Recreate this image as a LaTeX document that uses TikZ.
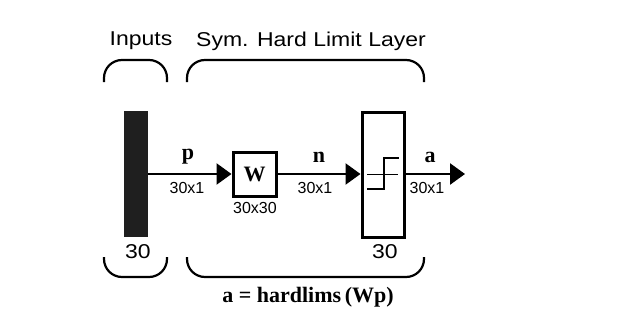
\documentclass[tikz,border=0pt]{standalone}
\usepackage{fontspec}
\setmainfont{Liberation Sans}
\newfontfamily\labfont[FakeStretch=1.15]{Liberation Sans}
\newfontfamily\varfont{Liberation Serif}
\usetikzlibrary{arrows.meta}
\tikzset{
	lab/.style={font=\labfont\fontsize{20}{22}\selectfont},
	dim/.style={font=\fontsize{16}{18}\selectfont},
	var/.style={font=\varfont\bfseries\fontsize{22}{24}\selectfont},
	sig/.style={line width=2.6pt,-{Triangle[length=15pt,width=21pt]}},
	brace/.style={line width=2.2pt,rounded corners=18pt},
	blk/.style={draw,line width=3pt,inner sep=0pt,minimum width=#1}
}
\begin{document}
\begin{tikzpicture}[x=1pt,y=-1pt]
\useasboundingbox[fill=white] (0,0) rectangle (633,335);
\def\yS{174};
\def\yT{60};
\def\yB{277};
% input bar
\node[fill=black!88,minimum width=24pt,minimum height=126pt,inner sep=0pt] (bar) at (136,174) {};
% weight box
\node[blk=43pt,minimum height=44pt,var] (W) at (254.5,174) {W};
% transfer function box
\node[blk=42pt,minimum height=125pt] (tf) at (383,174.5) {};
\coordinate (out) at (465,\yS);
% step symbol
\draw[line width=1pt] (367,\yS)--(398,\yS);
\draw[line width=2.2pt] (367,189)--(384,189)--(384,158)--(399,158);
% signals
\draw[sig] (bar.east|-0,\yS) -- (W.west);
\draw[sig] (W.east) -- (tf.west|-0,\yS);
\draw[sig] (tf.east|-0,\yS) -- (out);
\node[var] (p) at (188,157) {p};
\node[var] (n) at (319,157) {n};
\node[var] (a) at (430,157) {a};
\node[dim] (dp) at (187,188) {30x1};
\node[dim] (dn) at (315,188) {30x1};
\node[dim] (da) at (427,188) {30x1};
\node[dim] (dW) at (255,208) {30x30};
% braces
\draw[brace] (104,82)--(104,\yT)--(167,\yT)--(167,82);
\draw[brace] (187,82)--(187,\yT)--(424,\yT)--(424,82);
\draw[brace] (104,257)--(104,\yB)--(167,\yB)--(167,257);
\draw[brace] (187,257)--(187,\yB)--(424,\yB)--(424,257);
\node[lab] (inp) at (141,41) {Inputs};
\node[lab] (lay) at (311,41) {Sym. Hard Limit Layer};
\node[lab] (ni) at (138,252) {30};
\node[lab] (nl) at (385,252) {30};
\node[font=\varfont\bfseries\fontsize{22}{24}\selectfont] (eq) at (308,297) {a = hardlims\,(Wp)};
\end{tikzpicture}
\end{document}
